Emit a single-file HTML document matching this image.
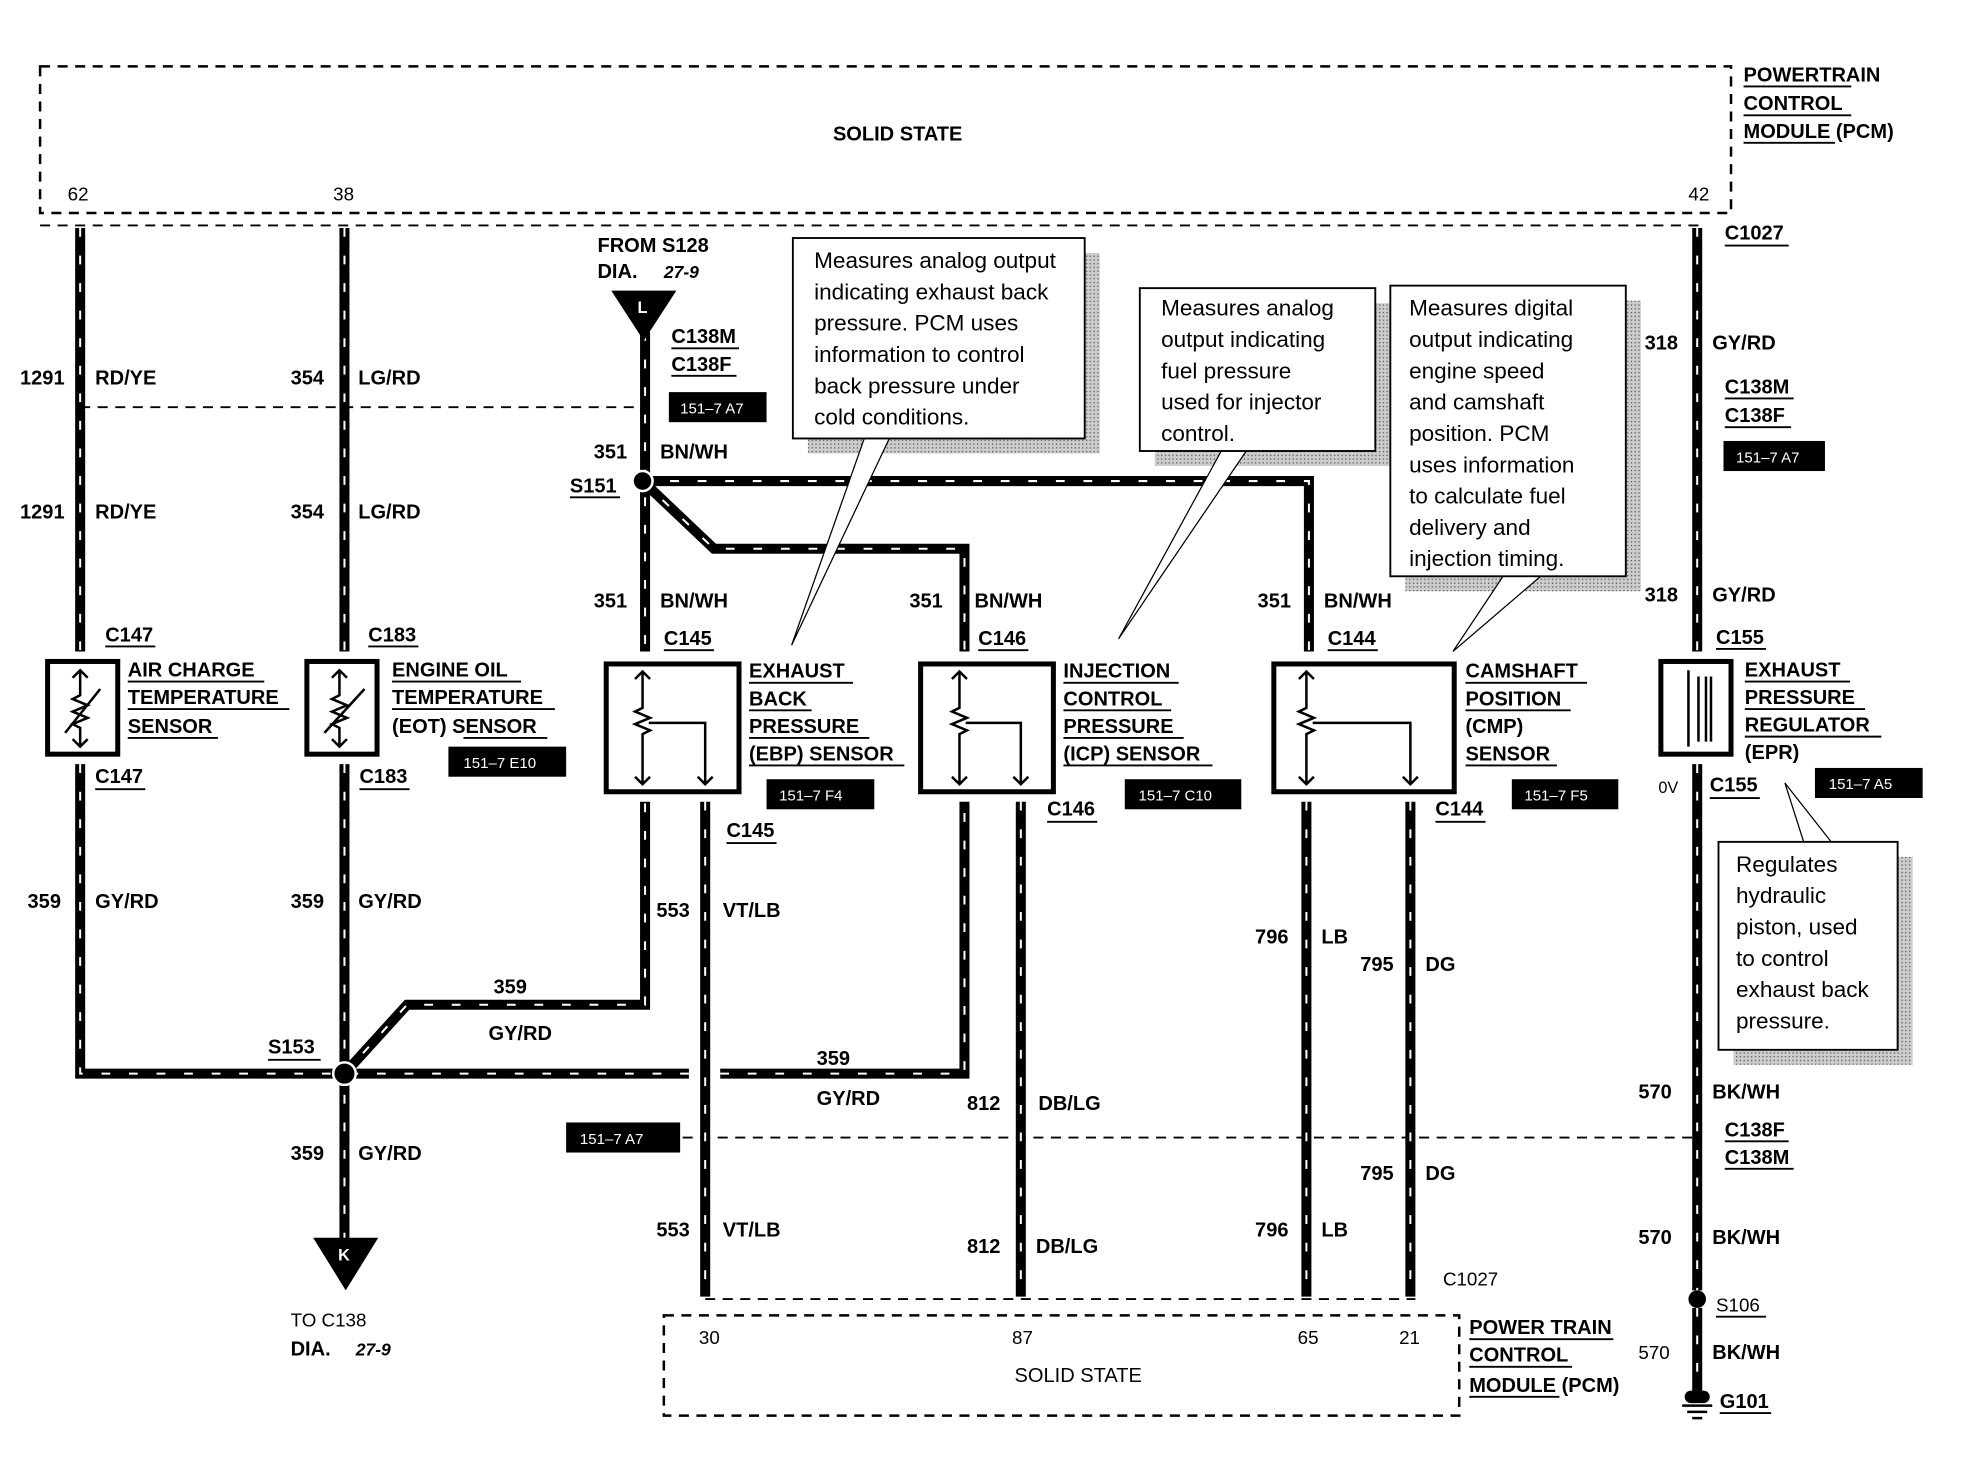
<!DOCTYPE html>
<html><head><meta charset="utf-8"><style>
html,body{margin:0;padding:0;background:#fff;}
svg{display:block;}
text{font-family:"Liberation Sans",sans-serif;font-weight:bold;font-size:16px;fill:#000;}
.n{font-weight:normal;font-size:18px;}
.w{fill:none;stroke:#000;stroke-width:8;stroke-linejoin:miter;}
.d{fill:none;stroke:#fff;stroke-width:1.6;stroke-dasharray:7 15;}
.th{fill:none;stroke:#000;stroke-width:2;stroke-dasharray:8 6;}
.bx{fill:none;stroke:#000;stroke-width:4;}
.lb{fill:#000;}
.lt{fill:#fff;font-size:12px;font-weight:normal;}
.u{stroke:#000;stroke-width:1.5;}
</style></head><body>
<svg width="1964" height="1472" viewBox="0 0 1568 1175" preserveAspectRatio="none" xmlns="http://www.w3.org/2000/svg">
<defs>
<path id="p1" d="M64 182 V520 M64 610 V857 H550 M575 857 H770 V640"/>
<path id="p2" d="M275 182 V520 M275 610 V990"/>
<path id="p3" d="M275 857 L325 802 H515 V640"/>
<path id="p4" d="M515 265 V520 M513 384 H1045 V520 M513 384 L570 438 H770 V520"/>
<path id="p5" d="M563 640 V1035 M815 640 V1035 M1043 640 V1035 M1126 640 V1035"/>
<path id="p6" d="M1355 182 V520 M1355 610 V1030 M1355 1044 V1112"/>
<pattern id="sh" width="3" height="3" patternUnits="userSpaceOnUse"><rect width="3" height="3" fill="#ccc"/><rect width="1" height="1" fill="#555"/></pattern>
</defs>

<rect x="32" y="53" width="1350" height="117" class="th"/>
<text x="665" y="112">SOLID STATE</text>
<text x="54" y="160" class="n" style="font-size:15px">62</text>
<text x="266" y="160" class="n" style="font-size:15px">38</text>
<text x="1348" y="160" class="n" style="font-size:15px">42</text>
<text x="1392" y="65">POWERTRAIN</text><line x1="1392" y1="69" x2="1478" y2="69" class="u"/>
<text x="1392" y="88">CONTROL</text><line x1="1392" y1="92" x2="1478" y2="92" class="u"/>
<text x="1392" y="110">MODULE (PCM)</text><line x1="1392" y1="114" x2="1465" y2="114" class="u"/>

<line x1="32" y1="180" x2="1357" y2="180" class="th" style="stroke-width:1.5"/>
<line x1="64" y1="325" x2="515" y2="325" class="th" style="stroke-width:1.5"/>
<line x1="545" y1="908" x2="1357" y2="908" class="th" style="stroke-width:1.5"/>
<line x1="563" y1="1037" x2="1130" y2="1037" class="th" style="stroke-width:1.5"/>

<use href="#p1" class="w"/><use href="#p1" class="d"/>
<use href="#p2" class="w"/><use href="#p2" class="d"/>
<use href="#p3" class="w"/><use href="#p3" class="d"/>
<use href="#p4" class="w"/><use href="#p4" class="d"/>
<use href="#p5" class="w"/><use href="#p5" class="d"/>
<use href="#p6" class="w"/><use href="#p6" class="d"/>

<circle cx="513" cy="384" r="8" fill="#000" stroke="#fff" stroke-width="2"/>
<circle cx="275" cy="857" r="9" fill="#000" stroke="#fff" stroke-width="2"/>
<circle cx="1355" cy="1037" r="7" fill="#000"/>
<path d="M1343 1122 H1367 M1347 1127 H1363 M1351 1132 H1359" stroke="#000" stroke-width="2"/>
<rect x="1345" y="1110" width="20" height="10" rx="5" fill="#000"/>

<polygon points="488,232 540,232 514,272" fill="#000"/><text x="509" y="250" style="fill:#fff;font-size:13px">L</text>
<polygon points="250,988 302,988 276,1030" fill="#000"/><text x="270" y="1006" style="fill:#fff;font-size:13px">K</text>

<rect x="38" y="528" width="56" height="74" class="bx" style="fill:#fff"/>
<path d="M64 535 V555 L58 558 L70 563 L58 568 L70 573 L58 578 L64 581 V596 M58 541 L64 535 L70 541 M58 590 L64 596 L70 590 M52 585 L80 550" stroke="#000" stroke-width="2" fill="none"/>
<rect x="245" y="528" width="56" height="74" class="bx" style="fill:#fff"/>
<path d="M271 535 V555 L265 558 L277 563 L265 568 L277 573 L265 578 L271 581 V596 M265 541 L271 535 L277 541 M265 590 L271 596 L277 590 M259 585 L291 550" stroke="#000" stroke-width="2" fill="none"/>
<rect x="1326" y="528" width="56" height="74" class="bx" style="fill:#fff"/>
<path d="M1348 535 V596 M1356 540 V592 M1362 540 V592 M1366 540 V592" stroke="#000" stroke-width="2" fill="none"/>

<rect x="484" y="530" width="106" height="102" class="bx" style="fill:#fff"/>
<path d="M513 536 V565 L507 568 L519 573 L507 578 L519 583 L513 586 V626 M507 542 L513 536 L519 542 M507 620 L513 626 L519 620 M518 577 H563 V626 M557 620 L563 626 L569 620" stroke="#000" stroke-width="2" fill="none"/>
<rect x="735" y="530" width="106" height="102" class="bx" style="fill:#fff"/>
<path d="M766 536 V565 L760 568 L772 573 L760 578 L772 583 L766 586 V626 M760 542 L766 536 L772 542 M760 620 L766 626 L772 620 M771 577 H815 V626 M809 620 L815 626 L821 620" stroke="#000" stroke-width="2" fill="none"/>
<rect x="1017" y="530" width="144" height="102" class="bx" style="fill:#fff"/>
<path d="M1043 536 V565 L1037 568 L1049 573 L1037 578 L1049 583 L1043 586 V626 M1037 542 L1043 536 L1049 542 M1037 620 L1043 626 L1049 620 M1048 577 H1126 V626 M1120 620 L1126 626 L1132 620" stroke="#000" stroke-width="2" fill="none"/>

<rect x="645" y="202" width="233" height="160" fill="url(#sh)"/>
<polygon points="690,350 632,515 710,350" fill="#fff" stroke="#000" stroke-width="1"/>
<rect x="633" y="190" width="233" height="160" fill="#fff" stroke="#000" stroke-width="1.5"/>
<text class="n" x="650" y="214">Measures analog output</text>
<text class="n" x="650" y="239">indicating exhaust back</text>
<text class="n" x="650" y="264">pressure.  PCM uses</text>
<text class="n" x="650" y="289">information to control</text>
<text class="n" x="650" y="314">back  pressure under</text>
<text class="n" x="650" y="339">cold conditions.</text>

<rect x="922" y="242" width="188" height="130" fill="url(#sh)"/>
<polygon points="975,360 893,510 995,360" fill="#fff" stroke="#000" stroke-width="1"/>
<rect x="910" y="230" width="188" height="130" fill="#fff" stroke="#000" stroke-width="1.5"/>
<text class="n" x="927" y="252">Measures analog</text>
<text class="n" x="927" y="277">output indicating</text>
<text class="n" x="927" y="302">fuel pressure</text>
<text class="n" x="927" y="327">used for  injector</text>
<text class="n" x="927" y="352">control.</text>

<rect x="1122" y="240" width="188" height="232" fill="url(#sh)"/>
<polygon points="1200,460 1160,520 1230,460" fill="#fff" stroke="#000" stroke-width="1"/>
<rect x="1110" y="228" width="188" height="232" fill="#fff" stroke="#000" stroke-width="1.5"/>
<text class="n" x="1125" y="252">Measures digital</text>
<text class="n" x="1125" y="277">output indicating</text>
<text class="n" x="1125" y="302">engine speed</text>
<text class="n" x="1125" y="327">and camshaft</text>
<text class="n" x="1125" y="352">position.  PCM</text>
<text class="n" x="1125" y="377">uses information</text>
<text class="n" x="1125" y="402">to calculate fuel</text>
<text class="n" x="1125" y="427">delivery and</text>
<text class="n" x="1125" y="452">injection timing.</text>

<rect x="1384" y="684" width="143" height="166" fill="url(#sh)"/>
<polygon points="1440,672 1425,625 1462,672" fill="#fff" stroke="#000" stroke-width="1"/>
<rect x="1372" y="672" width="143" height="166" fill="#fff" stroke="#000" stroke-width="1.5"/>
<text class="n" x="1386" y="696">Regulates</text>
<text class="n" x="1386" y="721">hydraulic</text>
<text class="n" x="1386" y="746">piston, used</text>
<text class="n" x="1386" y="771">to control</text>
<text class="n" x="1386" y="796">exhaust back</text>
<text class="n" x="1386" y="821">pressure.</text>

<rect x="534" y="313" width="78" height="24" class="lb"/><text x="543" y="330" class="lt">151–7 A7</text>
<rect x="1376" y="352" width="81" height="24" class="lb"/><text x="1386" y="369" class="lt">151–7 A7</text>
<rect x="452" y="896" width="91" height="24" class="lb"/><text x="463" y="913" class="lt">151–7 A7</text>
<rect x="358" y="596" width="94" height="24" class="lb"/><text x="370" y="613" class="lt">151–7 E10</text>
<rect x="612" y="622" width="86" height="24" class="lb"/><text x="622" y="639" class="lt">151–7 F4</text>
<rect x="898" y="622" width="93" height="24" class="lb"/><text x="909" y="639" class="lt">151–7 C10</text>
<rect x="1207" y="622" width="85" height="24" class="lb"/><text x="1217" y="639" class="lt">151–7 F5</text>
<rect x="1449" y="613" width="86" height="24" class="lb"/><text x="1460" y="630" class="lt">151–7 A5</text>

<text x="16" y="307">1291</text><text x="76" y="307">RD/YE</text>
<text x="16" y="414">1291</text><text x="76" y="414">RD/YE</text>
<text x="232" y="307">354</text><text x="286" y="307">LG/RD</text>
<text x="232" y="414">354</text><text x="286" y="414">LG/RD</text>
<text x="84" y="512">C147</text><line x1="84" y1="516" x2="124" y2="516" class="u"/>
<text x="294" y="512">C183</text><line x1="294" y1="516" x2="334" y2="516" class="u"/>
<text x="102" y="540">AIR CHARGE</text><line x1="102" y1="544" x2="211" y2="544" class="u"/>
<text x="102" y="562">TEMPERATURE</text><line x1="102" y1="566" x2="231" y2="566" class="u"/>
<text x="102" y="585">SENSOR</text><line x1="102" y1="589" x2="174" y2="589" class="u"/>
<text x="313" y="540">ENGINE OIL</text><line x1="313" y1="544" x2="416" y2="544" class="u"/>
<text x="313" y="562">TEMPERATURE</text><line x1="313" y1="566" x2="443" y2="566" class="u"/>
<text x="313" y="585">(EOT) SENSOR</text><line x1="370" y1="589" x2="437" y2="589" class="u"/>
<text x="76" y="625">C147</text><line x1="76" y1="630" x2="116" y2="630" class="u"/>
<text x="287" y="625">C183</text><line x1="287" y1="630" x2="327" y2="630" class="u"/>
<text x="22" y="725">359</text><text x="76" y="725">GY/RD</text>
<text x="232" y="725">359</text><text x="286" y="725">GY/RD</text>
<text x="214" y="841">S153</text><line x1="214" y1="846" x2="256" y2="846" class="u"/>
<text x="394" y="793">359</text><text x="390" y="830">GY/RD</text>
<text x="232" y="926">359</text><text x="286" y="926">GY/RD</text>
<text x="232" y="1059" class="n" style="font-size:15px">TO C138</text>
<text x="232" y="1082">DIA.</text><text x="284" y="1082" style="font-style:italic;font-size:14px">27-9</text>
<text x="477" y="201">FROM S128</text>
<text x="477" y="222">DIA.</text><text x="530" y="222" style="font-style:italic;font-size:14px">27-9</text>
<text x="536" y="274">C138M</text><line x1="536" y1="278" x2="590" y2="278" class="u"/>
<text x="536" y="296">C138F</text><line x1="536" y1="300" x2="588" y2="300" class="u"/>
<text x="474" y="366">351</text><text x="527" y="366">BN/WH</text>
<text x="455" y="393">S151</text><line x1="455" y1="397" x2="495" y2="397" class="u"/>
<text x="474" y="485">351</text><text x="527" y="485">BN/WH</text>
<text x="726" y="485">351</text><text x="778" y="485">BN/WH</text>
<text x="1004" y="485">351</text><text x="1057" y="485">BN/WH</text>
<text x="530" y="515">C145</text><line x1="530" y1="519" x2="570" y2="519" class="u"/>
<text x="781" y="515">C146</text><line x1="781" y1="519" x2="821" y2="519" class="u"/>
<text x="1060" y="515">C144</text><line x1="1060" y1="519" x2="1100" y2="519" class="u"/>
<text x="598" y="541">EXHAUST</text><line x1="598" y1="545" x2="681" y2="545" class="u"/>
<text x="598" y="563">BACK</text><line x1="598" y1="567" x2="648" y2="567" class="u"/>
<text x="598" y="585">PRESSURE</text><line x1="598" y1="589" x2="694" y2="589" class="u"/>
<text x="598" y="607">(EBP) SENSOR</text><line x1="598" y1="611" x2="722" y2="611" class="u"/>
<text x="849" y="541">INJECTION</text><line x1="849" y1="545" x2="941" y2="545" class="u"/>
<text x="849" y="563">CONTROL</text><line x1="849" y1="567" x2="935" y2="567" class="u"/>
<text x="849" y="585">PRESSURE</text><line x1="849" y1="589" x2="945" y2="589" class="u"/>
<text x="849" y="607">(ICP) SENSOR</text><line x1="849" y1="611" x2="968" y2="611" class="u"/>
<text x="1170" y="541">CAMSHAFT</text><line x1="1170" y1="545" x2="1267" y2="545" class="u"/>
<text x="1170" y="563">POSITION</text><line x1="1170" y1="567" x2="1254" y2="567" class="u"/>
<text x="1170" y="585">(CMP)</text>
<text x="1170" y="607">SENSOR</text><line x1="1170" y1="611" x2="1243" y2="611" class="u"/>
<text x="580" y="668">C145</text><line x1="580" y1="673" x2="620" y2="673" class="u"/>
<text x="836" y="651">C146</text><line x1="836" y1="656" x2="876" y2="656" class="u"/>
<text x="1146" y="651">C144</text><line x1="1146" y1="656" x2="1186" y2="656" class="u"/>
<text x="524" y="732">553</text><text x="577" y="732">VT/LB</text>
<text x="652" y="850">359</text><text x="652" y="882">GY/RD</text>
<text x="772" y="886">812</text><text x="829" y="886">DB/LG</text>
<text x="1002" y="753">796</text><text x="1055" y="753">LB</text>
<text x="1086" y="775">795</text><text x="1138" y="775">DG</text>
<text x="1086" y="942">795</text><text x="1138" y="942">DG</text>
<text x="524" y="987">553</text><text x="577" y="987">VT/LB</text>
<text x="772" y="1000">812</text><text x="827" y="1000">DB/LG</text>
<text x="1002" y="987">796</text><text x="1055" y="987">LB</text>
<text x="1152" y="1026" class="n" style="font-size:15px">C1027</text>
<text x="1377" y="191">C1027</text><line x1="1377" y1="196" x2="1428" y2="196" class="u"/>
<text x="1313" y="279">318</text><text x="1367" y="279">GY/RD</text>
<text x="1377" y="314">C138M</text><line x1="1377" y1="318" x2="1432" y2="318" class="u"/>
<text x="1377" y="337">C138F</text><line x1="1377" y1="341" x2="1430" y2="341" class="u"/>
<text x="1313" y="480">318</text><text x="1367" y="480">GY/RD</text>
<text x="1370" y="514">C155</text><line x1="1370" y1="518" x2="1410" y2="518" class="u"/>
<text x="1393" y="540">EXHAUST</text><line x1="1393" y1="544" x2="1477" y2="544" class="u"/>
<text x="1393" y="562">PRESSURE</text><line x1="1393" y1="566" x2="1489" y2="566" class="u"/>
<text x="1393" y="584">REGULATOR</text><line x1="1393" y1="588" x2="1502" y2="588" class="u"/>
<text x="1393" y="606">(EPR)</text>
<text x="1324" y="633" class="n" style="font-size:13px">0V</text>
<text x="1365" y="632">C155</text><line x1="1365" y1="637" x2="1405" y2="637" class="u"/>
<text x="1308" y="877">570</text><text x="1367" y="877">BK/WH</text>
<text x="1377" y="907">C138F</text><line x1="1377" y1="911" x2="1428" y2="911" class="u"/>
<text x="1377" y="929">C138M</text><line x1="1377" y1="933" x2="1432" y2="933" class="u"/>
<text x="1308" y="993">570</text><text x="1367" y="993">BK/WH</text>
<text x="1370" y="1047" class="n" style="font-size:15px">S106</text><line x1="1370" y1="1051" x2="1410" y2="1051" class="u"/>
<text x="1308" y="1085" class="n" style="font-size:15px">570</text><text x="1367" y="1085">BK/WH</text>
<text x="1373" y="1124">G101</text><line x1="1373" y1="1128" x2="1414" y2="1128" class="u"/>

<rect x="530" y="1050" width="635" height="80" class="th"/>
<text x="558" y="1073" class="n" style="font-size:15px">30</text>
<text x="808" y="1073" class="n" style="font-size:15px">87</text>
<text x="1036" y="1073" class="n" style="font-size:15px">65</text>
<text x="1117" y="1073" class="n" style="font-size:15px">21</text>
<text x="810" y="1103" style="font-weight:normal">SOLID STATE</text>
<text x="1173" y="1065">POWER TRAIN</text><line x1="1173" y1="1069" x2="1288" y2="1069" class="u"/>
<text x="1173" y="1087">CONTROL</text><line x1="1173" y1="1091" x2="1255" y2="1091" class="u"/>
<text x="1173" y="1111">MODULE (PCM)</text><line x1="1173" y1="1115" x2="1245" y2="1115" class="u"/>
</svg>
</body></html>
